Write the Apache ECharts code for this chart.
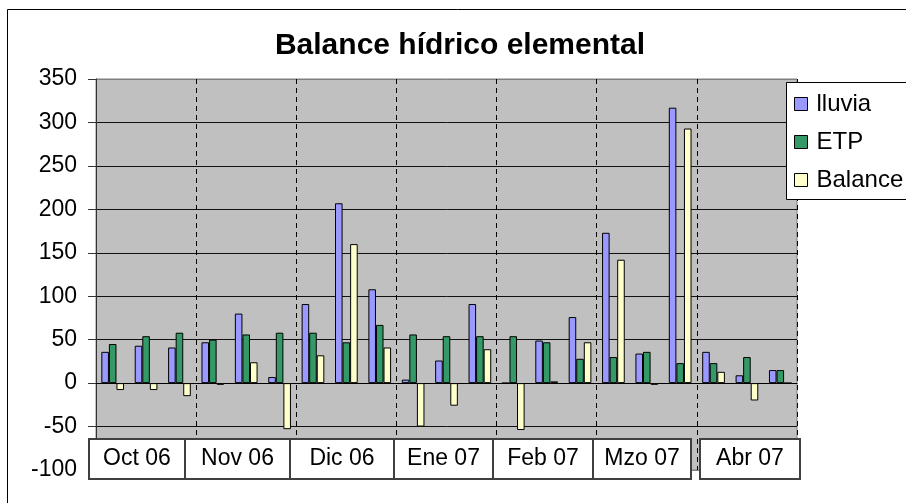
<!DOCTYPE html>
<html>
<head>
<meta charset="utf-8">
<script src="https://cdn.jsdelivr.net/npm/echarts@6/dist/echarts.min.js"></script>
<style>
  html, body { margin: 0; padding: 0; background: #fff; }
  #balance { width: 906px; height: 503px; }
</style>
</head>
<body>
<div id="balance"></div>
<script>
// decadas (3 por mes)
const decadas = [
  'Oct 06 1', 'Oct 06 2', 'Oct 06 3',
  'Nov 06 1', 'Nov 06 2', 'Nov 06 3',
  'Dic 06 1', 'Dic 06 2', 'Dic 06 3',
  'Ene 07 1', 'Ene 07 2', 'Ene 07 3',
  'Feb 07 1', 'Feb 07 2', 'Feb 07 3',
  'Mzo 07 1', 'Mzo 07 2', 'Mzo 07 3',
  'Abr 07 1', 'Abr 07 2', 'Abr 07 3'
];
const meses = ['Oct 06', 'Nov 06', 'Dic 06', 'Ene 07', 'Feb 07', 'Mzo 07', 'Abr 07'];
const lluvia  = [36, 43, 41, 47, 80, 7, 91, 207, 108, 4, 26, 91, 0, 49, 76, 173, 34, 317, 36, 9, 15];
const etp     = [45, 54, 58, 50, 56, 58, 58, 47, 67, 56, 54, 54, 54, 47, 28, 30, 36, 23, 23, 30, 15];
const balance = [-8, -8, -15, -2, 24, -53, 32, 160, 41, -50, -26, 39, -54, 2, 47, 142, -2, 293, 13, -20, 0];
const yMin = -100, yMax = 350, yPaso = 50;

const fuente = '"Liberation Sans", Arial, sans-serif';

// cajas de texto de los meses (x izquierda, x derecha)
const cajas = [[89, 185], [185, 290], [290, 394], [394, 493], [493, 593], [593, 691], [700, 800]];

const myChart = echarts.init(document.getElementById('balance'), null, { renderer: 'canvas' });

function serie(nombre, datos, color) {
  return {
    name: nombre,
    type: 'bar',
    data: datos,
    barGap: '0%',
    barCategoryGap: '32%',
    itemStyle: { color: color, borderColor: '#000', borderWidth: 1 }
  };
}

const graficos = [
  {
    type: 'rect', z: -1, silent: true,
    shape: { x: 7.5, y: 9.5, width: 1000, height: 600 },
    style: { fill: 'none', stroke: '#000', lineWidth: 1 }
  },
  {
    // marco de la leyenda (se sale por la derecha)
    type: 'rect', z: 3, silent: true,
    shape: { x: 786.5, y: 82.5, width: 200, height: 117 },
    style: { fill: '#fff', stroke: '#000', lineWidth: 1 }
  },
  {
    type: 'text', z: 10,
    x: 460, y: 46,
    style: {
      text: 'Balance hídrico elemental',
      font: 'bold 30px ' + fuente,
      fill: '#000',
      textAlign: 'center',
      textVerticalAlign: 'middle'
    }
  }
];

meses.forEach((mes, i) => {
  const [x0, x1] = cajas[i];
  graficos.push({
    type: 'rect', z: 100,
    shape: { x: x0, y: 439, width: x1 - x0, height: 40 },
    style: { fill: '#fff', stroke: '#404040', lineWidth: 2 }
  });
  graficos.push({
    type: 'text', z: 101,
    x: (x0 + x1) / 2, y: 459,
    style: {
      text: mes, font: '23px ' + fuente, fill: '#000',
      textAlign: 'center', textVerticalAlign: 'middle'
    }
  });
});

const option = {
  animation: false,
  textStyle: { fontFamily: fuente },
  grid: {
    left: 96, right: 109, top: 79, bottom: 33,
    show: true,
    backgroundColor: '#C0C0C0',
    borderColor: '#808080',
    borderWidth: 1
  },
  legend: {
    orient: 'vertical',
    z: 5,
    left: 786, top: 82,
    padding: [10, 4, 9, 8],
    itemWidth: 13, itemHeight: 13, itemGap: 14,
    icon: 'rect',
    borderWidth: 0,
    itemStyle: { borderColor: '#000', borderWidth: 1 },
    textStyle: { fontSize: 24, color: '#000', fontFamily: fuente, padding: [0, 0, 0, 4] },
    data: ['lluvia', 'ETP', 'Balance']
  },
  xAxis: {
    type: 'category',
    data: decadas,
    axisLine: { onZero: true, lineStyle: { color: '#000', width: 1 } },
    axisTick: { show: false },
    axisLabel: { show: false },
    splitLine: {
      show: true,
      interval: 2,
      lineStyle: { color: '#000', type: [5, 4], width: 1 }
    }
  },
  yAxis: {
    type: 'value',
    min: yMin, max: yMax, interval: yPaso,
    axisLine: { show: true, lineStyle: { color: '#333' } },
    axisTick: { show: true, length: 8, lineStyle: { color: '#333' } },
    axisLabel: { fontSize: 23, color: '#000', margin: 19, fontFamily: fuente },
    splitLine: {
      show: true,
      lineStyle: {
        color: ['#808080', '#111', '#111', '#111', '#111', '#111', '#111', '#111', '#111', '#808080'],
        width: 1
      }
    }
  },
  series: [
    serie('lluvia', lluvia, '#9999FF'),
    serie('ETP', etp, '#339966'),
    serie('Balance', balance, '#FFFFCC')
  ],
  graphic: graficos
};

myChart.setOption(option);
</script>
</body>
</html>
